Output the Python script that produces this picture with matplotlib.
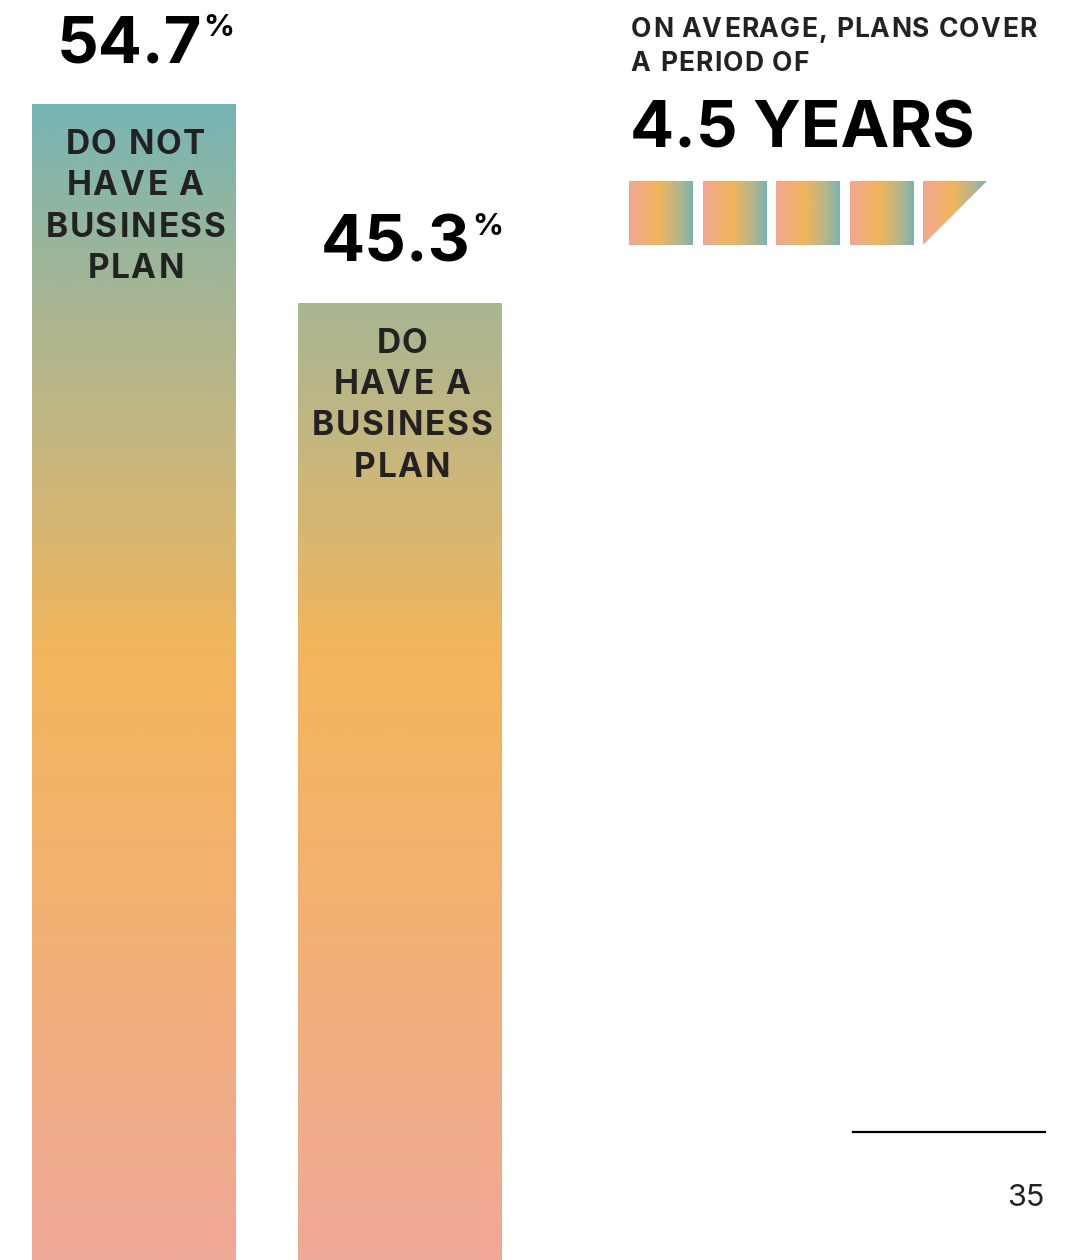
import numpy as np
import matplotlib.pyplot as plt
from matplotlib import font_manager
from matplotlib.font_manager import FontProperties
from matplotlib.ft2font import FT2Font
from matplotlib.colors import LinearSegmentedColormap
from matplotlib.patches import Rectangle, Polygon

plt.rcParams['font.family'] = ['Inter', 'DejaVu Sans']

labels = ['DO NOT\nHAVE A\nBUSINESS\nPLAN', 'DO\nHAVE A\nBUSINESS\nPLAN']
shares = [54.7, 45.3]
avg_years = 4.5
headline = ['ON AVERAGE, PLANS COVER', 'A PERIOD OF']
page_no = '35'

W, H = 1075, 1260
fig = plt.figure(figsize=(W / 100, H / 100), dpi=100)

# bar chart fills the whole page, zero at the bottom edge
ax = fig.add_axes([0, 0, 1, 1])
ymax = shares[0] * H / 1156
ax.set_xlim(-0.501, 3.533)
ax.set_ylim(0, ymax)
ax.axis('off')

# overlay in pixel coordinates for the text and the right-hand panel
ov = fig.add_axes([0, 0, 1, 1])
ov.set_xlim(0, W)
ov.set_ylim(H, 0)
ov.axis('off')
ov.patch.set_alpha(0)

bold_path = font_manager.findfont(FontProperties(family='Inter', weight='bold'))


def text_width(s, size):
    ft = FT2Font(bold_path)
    ft.set_size(size, 100)
    return sum(ft.load_char(ord(c)).linearHoriAdvance / 65536 for c in s)


def tracked_text(x, y, s, size, track, ha='center', color='#222222'):
    # matplotlib has no letter spacing, so place the characters one by one
    ft = FT2Font(bold_path)
    ft.set_size(size, 100)
    glyphs = [ft.load_char(ord(c)) for c in s]
    adv = [g.linearHoriAdvance / 65536 for g in glyphs]
    total = sum(adv) + track * (len(s) - 1)
    cur = x - total / 2 if ha == 'center' else x
    for c, g, a in zip(s, glyphs, adv):
        if c != ' ':
            ov.text(cur + g.horiBearingX / 64, y, c, ha='left', va='baseline',
                    fontsize=size, fontweight='bold', color=color)
        cur += a + track
    return cur - track


# vertical gradient: pink at bottom, orange in the middle, teal at the top
bar_cmap = LinearSegmentedColormap.from_list(
    'bars', [(0, '#f0a898'), (0.286, '#f2b170'), (0.484, '#f2b55b'),
             (0.619, '#cdb77a'), (0.76, '#a7b592'), (0.917, '#77b5b4'), (1, '#6ab4b8')])
grad = np.linspace(0, 1, 512).reshape(-1, 1)

xs = np.arange(len(shares))
bars = ax.bar(xs, shares, width=0.762, color='none', edgecolor='none')
for x, b, val, lab in zip(xs, bars, shares, labels):
    im = ax.imshow(grad, cmap=bar_cmap, origin='lower', aspect='auto',
                   extent=(x - 0.5, x + 0.5, 0, ymax), interpolation='bilinear')
    im.set_clip_path(b)
    cx, ty = ax.transData.transform((x, val))
    ty = H - ty
    num = f'{val:.1f}'
    ov.text(cx - 4, ty - 41, num, ha='center', va='baseline', fontsize=47,
            fontweight='bold', color='#000000')
    right = cx - 4 + text_width(num, 47) / 2
    ov.text(right + 1, ty - 90, '%', ha='left', va='top', fontsize=22,
            fontweight='bold', color='#000000')
    for i, line in enumerate(lab.split('\n')):
        tracked_text(cx, ty + 50 + i * 41.3, line, 24, 2.0)
ax.set_xlim(-0.501, 3.533)
ax.set_ylim(0, ymax)

for i, line in enumerate(headline):
    tracked_text(630, 37 + i * 34, line, 19, 1.2, ha='left')
ov.text(630, 148, f'{avg_years:g} YEARS', ha='left', va='baseline', fontsize=47,
        fontweight='bold', color='#000000')

sq_cmap = LinearSegmentedColormap.from_list(
    'sq', [(0, '#f0a792'), (0.45, '#f2b55b'), (0.75, '#bdb585'), (1, '#79b4b0')])
sgrad = np.linspace(0, 1, 256).reshape(1, -1)
size, step, x0, y0 = 64, 73.5, 629, 181
n_full = int(avg_years)
frac = avg_years - n_full
for i in range(n_full + (1 if frac > 0 else 0)):
    left = x0 + i * step
    im = ov.imshow(sgrad, cmap=sq_cmap, aspect='auto', interpolation='bilinear',
                   extent=(left, left + size, y0 + size, y0))
    if i < n_full:
        clip = Rectangle((left, y0), size, size, transform=ov.transData, fc='none', ec='none')
    else:
        clip = Polygon([(left, y0), (left + size, y0), (left, y0 + size)],
                       closed=True, transform=ov.transData, fc='none', ec='none')
    ov.add_patch(clip)
    im.set_clip_path(clip)

ov.plot([853, 1045], [1132, 1132], color='#000000', lw=1.6)
ov.text(1044, 1206, page_no, ha='right', va='baseline', fontsize=22, color='#222222')
ov.set_xlim(0, W)
ov.set_ylim(H, 0)

fig.savefig('out.png', dpi=100)
